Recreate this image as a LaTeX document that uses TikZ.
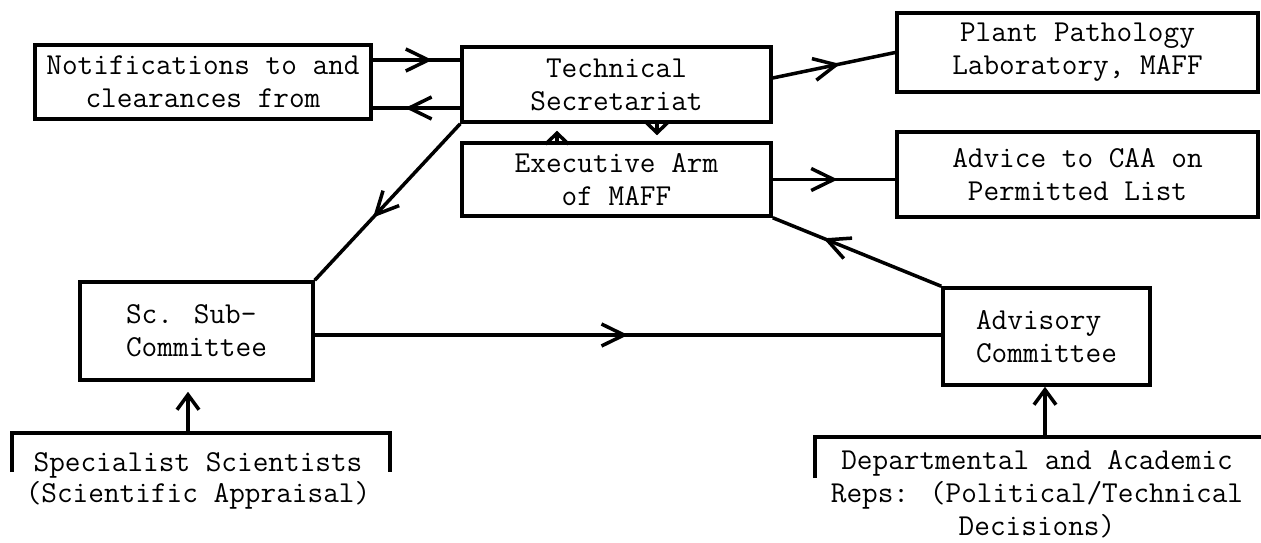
\documentclass[tikz,border=0pt]{standalone}
\usepackage{fontspec}
\usetikzlibrary{arrows.meta,decorations.markings}

\tikzset{
	box/.style={draw=black, line width=2pt, align=center, inner sep=0pt,
		font=\ttfamily\fontsize{17.3}{18.8}\selectfont},
	label/.style={align=center, inner sep=0pt, font=\ttfamily\fontsize{17.3}{18.8}\selectfont},
	link/.style={line width=2pt},
	barb/.tip={Straight Barb[length=3mm, width=4.4mm]},
	tiny/.tip={Straight Barb[length=2.2mm, width=4.6mm]},
	midarrow/.style={link, postaction={decorate},
		decoration={markings, mark=at position #1 with {\arrow{Straight Barb[length=4.5mm, width=4.4mm]}}}},
}

\begin{document}
\begin{tikzpicture}
		\useasboundingbox (0,0) rectangle (25.22,-10.86);

		\node[box, minimum width=6.72cm, minimum height=1.48cm] (notif) at (4.06, -1.64) {Notifications to and\\clearances from};
		\node[box, minimum width=6.18cm, minimum height=1.5cm] (tech) at (12.33, -1.69) {Technical\\Secretariat};
		\node[box, minimum width=6.18cm, minimum height=1.46cm] (exec) at (12.33, -3.59) {Executive Arm\\of MAFF};
		\node[box, minimum width=7.22cm, minimum height=1.58cm] (plant) at (21.55, -1.05) {Plant Pathology\\Laboratory, MAFF};
		\node[box, minimum width=7.22cm, minimum height=1.7cm] (advice) at (21.55, -3.49) {Advice to CAA on\\Permitted List};
		\node[box, align=left, minimum width=4.66cm, minimum height=1.96cm] (sub) at (3.93, -6.62) {Sc. Sub-\\Committee};
		\node[box, align=left, minimum width=4.14cm, minimum height=1.94cm] (advisory) at (20.93, -6.73) {Advisory\\Committee};

		\node[label, font=\ttfamily\fontsize{17.3}{17.5}\selectfont] (spec) at (3.96, -9.62) {Specialist Scientists\\(Scientific Appraisal)};
		\node[label] (dept) at (20.74, -9.88) {Departmental and Academic\\Reps: (Political/Technical\\Decisions)};

		% brackets under the two committees
		\draw[link] (0.24, -9.44) -- (0.24, -8.66) -- (7.8, -8.66) -- (7.8, -9.44);
		\coordinate (specup) at (3.76, -8.66);
		\draw[link] (16.3, -9.56) -- (16.3, -8.74) -- (25.22, -8.74);
		\coordinate (deptup) at (20.9, -8.74);

		\draw[midarrow=0.68] ([yshift=4.4mm]notif.east) -- ([yshift=4.4mm]notif.east -| tech.west);
		\draw[midarrow=0.63] ([yshift=-5.2mm]notif.east -| tech.west) -- ([yshift=-5.2mm]notif.east);
		\draw[midarrow=0.55] ([yshift=1.3mm]tech.east) -- (plant.west);
		\draw[midarrow=0.53] (exec.east) -- (exec.east -| advice.west);
		\draw[link, -tiny] (exec.north -| 11.14,0) -- ([yshift=-1.4mm]tech.south -| 11.14,0);
		\draw[link, -tiny] (tech.south -| 13.14,0) -- ([yshift=1.2mm]exec.north -| 13.14,0);
		\draw[midarrow=0.6] (tech.south west) -- (sub.north east);
		\draw[midarrow=0.5] ([yshift=-0.8mm]sub.east) -- ([yshift=-0.8mm]sub.east -| advisory.west);
		\draw[midarrow=0.7] (advisory.north west) -- (exec.south east);
		\draw[link, -barb] (specup) -- ([yshift=-2mm]specup |- sub.south);
		\draw[link, -barb] (deptup) -- (deptup |- advisory.south);
	\end{tikzpicture}
\end{document}
